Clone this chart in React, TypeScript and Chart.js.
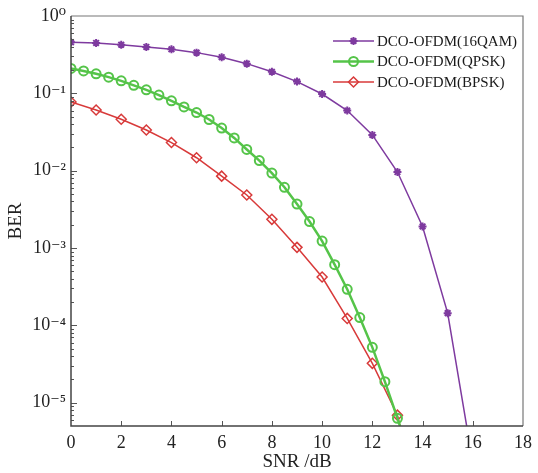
import React, { useEffect, useRef } from 'react';
import { Chart, registerables } from 'chart.js';

Chart.register(...registerables);

// ---- data ----
const seriesNames = ['DCO-OFDM(16QAM)', 'DCO-OFDM(QPSK)', 'DCO-OFDM(BPSK)'];

const snrQam = [0, 1, 2, 3, 4, 5, 6, 7, 8, 9, 10, 11, 12, 13, 14, 15, 16];
const berQam = [0.457, 0.448, 0.426, 0.398, 0.371, 0.336, 0.293, 0.242, 0.19, 0.142, 0.098, 0.06, 0.029, 0.0096, 0.0019, 1.44e-4, 1.7e-6];

const snrQpsk = [0, 0.5, 1, 1.5, 2, 2.5, 3, 3.5, 4, 4.5, 5, 5.5, 6, 6.5, 7, 7.5, 8, 8.5, 9, 9.5, 10, 10.5, 11, 11.5, 12, 12.5, 13, 13.5];
const berQpsk = [0.21, 0.195, 0.179, 0.162, 0.145, 0.127, 0.111, 0.095, 0.08, 0.0668, 0.0565, 0.0459, 0.0356, 0.0265, 0.0188, 0.0135, 0.0093, 0.0061, 0.0037, 0.0022, 0.00123, 6.1e-4, 2.93e-4, 1.26e-4, 5.2e-5, 1.87e-5, 6.3e-6, 2e-6];

const snrBpsk = [0, 1, 2, 3, 4, 5, 6, 7, 8, 9, 10, 11, 12, 13, 14];
const berBpsk = [0.0773, 0.0609, 0.0462, 0.0336, 0.0231, 0.0147, 0.0085, 0.00485, 0.00235, 0.00102, 4.22e-4, 1.23e-4, 3.23e-5, 6.9e-6, 3e-7];

const xTickValues = [0, 2, 4, 6, 8, 10, 12, 14, 16, 18];
const yDecadeValues = [1, 0.1, 0.01, 0.001, 0.0001, 0.00001];
const yDecadeLabels = ['10⁰', '10⁻¹', '10⁻²', '10⁻³', '10⁻⁴', '10⁻⁵'];
const yMinorMultipliers = [2, 3, 4, 5, 6, 7, 8, 9];

const xTitle = 'SNR /dB';
const yTitle = 'BER';

const colors = ['#7e3a9f', '#55c449', '#d83a3a'];
const pointStyles = ['star', 'circle', 'rectRot'];

const FONT = "'Liberation Serif', 'DejaVu Serif', serif";
const Y_MIN = 5e-6;
const Y_MAX = 1;

function allYTicks(): number[] {
  const out: number[] = [];
  for (let e = -6; e <= 0; e++) {
    const base = Math.pow(10, e);
    const vals = [1, ...yMinorMultipliers];
    for (const m of vals) {
      const v = parseFloat((m * base).toPrecision(6));
      if (v >= Y_MIN * 0.999 && v <= Y_MAX * 1.0001) out.push(v);
      if (e === 0) break;
    }
  }
  return out;
}

function isDecade(v: number) {
  const l = Math.log10(v);
  return Math.abs(l - Math.round(l)) < 1e-6;
}

function decadeLabel(v: number): string {
  for (let i = 0; i < yDecadeValues.length; i++) {
    if (Math.abs(Math.log10(v) - Math.log10(yDecadeValues[i])) < 1e-6) return yDecadeLabels[i];
  }
  return '';
}

function drawMarker(ctx: CanvasRenderingContext2D, style: string, x: number, y: number, r: number) {
  ctx.beginPath();
  if (style === 'circle') {
    ctx.arc(x, y, r, 0, Math.PI * 2);
  } else if (style === 'rectRot') {
    ctx.moveTo(x, y - r);
    ctx.lineTo(x + r, y);
    ctx.lineTo(x, y + r);
    ctx.lineTo(x - r, y);
    ctx.closePath();
  } else {
    for (let k = 0; k < 4; k++) {
      const a = (k * Math.PI) / 4;
      ctx.moveTo(x - r * Math.cos(a), y - r * Math.sin(a));
      ctx.lineTo(x + r * Math.cos(a), y + r * Math.sin(a));
    }
  }
  ctx.stroke();
}

const framePlugin = {
  id: 'frameAndLegend',
  afterDraw(chart: any) {
    const { ctx, chartArea: a, scales } = chart;
    ctx.save();
    // inner ticks
    ctx.strokeStyle = '#555';
    ctx.lineWidth = 1;
    const ys = scales.y;
    ys.ticks.forEach((t: any) => {
      const py = Math.round(ys.getPixelForValue(t.value)) + 0.5;
      if (py <= a.top + 1 || py >= a.bottom - 1) return;
      const len = isDecade(t.value) ? 6 : 3;
      ctx.beginPath();
      ctx.moveTo(a.left, py);
      ctx.lineTo(a.left + len, py);
      ctx.stroke();
    });
    const xs = scales.x;
    xs.ticks.forEach((t: any) => {
      const px = Math.round(xs.getPixelForValue(t.value)) + 0.5;
      if (px <= a.left + 1 || px >= a.right - 1) return;
      ctx.beginPath();
      ctx.moveTo(px, a.bottom);
      ctx.lineTo(px, a.bottom - 5);
      ctx.stroke();
    });
    // frame top/right
    ctx.strokeStyle = '#777';
    ctx.lineWidth = 1.2;
    ctx.beginPath();
    ctx.moveTo(a.left, a.top);
    ctx.lineTo(a.right, a.top);
    ctx.lineTo(a.right, a.bottom);
    ctx.stroke();
    // axes left/bottom
    ctx.strokeStyle = '#444';
    ctx.lineWidth = 1.5;
    ctx.beginPath();
    ctx.moveTo(a.left, a.top);
    ctx.lineTo(a.left, a.bottom);
    ctx.lineTo(a.right, a.bottom);
    ctx.stroke();

    // legend
    const lx0 = a.left + 262;
    const lx1 = lx0 + 41;
    const ly0 = a.top + 25;
    const step = 20.5;
    ctx.font = `15px ${FONT}`;
    ctx.textBaseline = 'middle';
    ctx.textAlign = 'left';
    chart.data.datasets.forEach((ds: any, i: number) => {
      const y = ly0 + i * step;
      ctx.strokeStyle = ds.borderColor;
      ctx.lineWidth = ds.borderWidth;
      ctx.beginPath();
      ctx.moveTo(lx0, y);
      ctx.lineTo(lx1, y);
      ctx.stroke();
      ctx.lineWidth = ds.pointBorderWidth;
      drawMarker(ctx, ds.pointStyle, (lx0 + lx1) / 2, y, ds.pointRadius);
      ctx.fillStyle = '#1a1a1a';
      ctx.fillText(ds.label, lx1 + 3, y + 1);
    });
    ctx.restore();
  },
};

function toPoints(xs: number[], ys: number[]) {
  return xs.map((x, i) => ({ x, y: ys[i] }));
}

export default function App() {
  const ref = useRef<HTMLCanvasElement | null>(null);

  useEffect(() => {
    if (!ref.current) return;
    const seriesX = [snrQam, snrQpsk, snrBpsk];
    const seriesY = [berQam, berQpsk, berBpsk];
    const widths = [1.5, 2.5, 1.5];
    const radii = [4, 4.5, 5];
    const pbw = [2, 2, 1.5];
    const chart = new Chart(ref.current, {
      type: 'line',
      data: {
        datasets: seriesNames.map((name, i) => ({
          label: name,
          data: toPoints(seriesX[i], seriesY[i]),
          borderColor: colors[i],
          backgroundColor: colors[i],
          borderWidth: widths[i],
          pointStyle: pointStyles[i] as any,
          pointRadius: radii[i],
          pointBorderWidth: pbw[i],
          pointBorderColor: colors[i],
          pointBackgroundColor: i === 0 ? colors[i] : 'rgba(255,255,255,0)',
          tension: 0,
          fill: false,
        })),
      },
      options: {
        animation: false,
        responsive: false,
        layout: { padding: { top: 16, right: 10, left: 0, bottom: 0 } },
        plugins: {
          legend: { display: false },
          tooltip: { enabled: false },
        },
        scales: {
          x: {
            type: 'linear',
            min: 0,
            max: 18,
            afterBuildTicks: (s: any) => {
              s.ticks = xTickValues.map((v) => ({ value: v }));
            },
            ticks: {
              autoSkip: false,
              maxRotation: 0,
              padding: 6,
              color: '#222',
              font: { family: FONT, size: 18 },
            },
            grid: { display: false, drawTicks: false, tickLength: 0 },
            border: { display: false },
            title: {
              display: true,
              text: xTitle,
              color: '#222',
              font: { family: FONT, size: 19 },
              padding: { top: 0, bottom: 0 },
            },
            afterFit: (s: any) => {
              s.height = 47;
            },
          },
          y: {
            type: 'logarithmic',
            min: Y_MIN,
            max: Y_MAX,
            afterBuildTicks: (s: any) => {
              s.ticks = allYTicks().map((v) => ({ value: v, major: isDecade(v) }));
            },
            ticks: {
              autoSkip: false,
              padding: 5,
              color: '#222',
              font: { family: FONT, size: 18 },
              callback: (v: any) => decadeLabel(Number(v)),
            },
            grid: { display: false, drawTicks: false, tickLength: 0 },
            border: { display: false },
            title: {
              display: true,
              text: yTitle,
              color: '#222',
              font: { family: FONT, size: 19 },
              padding: { top: 5, bottom: 0 },
            },
            afterFit: (s: any) => {
              s.width = 71;
            },
          },
        },
      },
      plugins: [framePlugin],
    });
    return () => chart.destroy();
  }, []);

  return (
    <div style={{ position: 'absolute', left: 0, top: 0, width: 538, height: 473, background: '#fff' }}>
      <canvas ref={ref} width={538} height={473} />
    </div>
  );
}
